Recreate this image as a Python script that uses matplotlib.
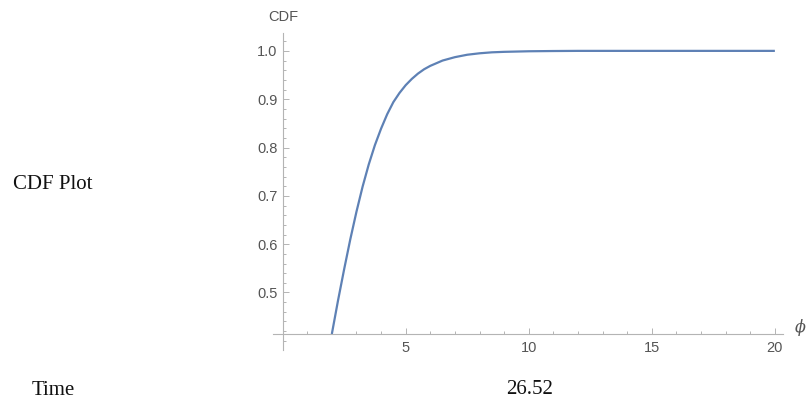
import numpy as np
import matplotlib
matplotlib.use('Agg')
import matplotlib.pyplot as plt
from matplotlib.ticker import MultipleLocator

# values
phi = [2.0, 2.25, 2.5, 2.75, 3.0, 3.25, 3.5, 3.75, 4.0, 4.25, 4.5, 4.75,
       5.0, 5.25, 5.5, 5.75, 6.0, 6.5, 7.0, 7.5, 8.0, 8.5, 9.0, 10.0, 11.0,
       12.0, 15.0, 20.0]
cdf = [0.414, 0.483, 0.548, 0.610, 0.667, 0.719, 0.765, 0.805, 0.839, 0.869,
       0.894, 0.913, 0.929, 0.942, 0.953, 0.962, 0.969, 0.980, 0.987, 0.992,
       0.995, 0.997, 0.998, 0.9992, 0.9997, 1.0, 1.0, 1.0]

x_ticks = [5, 10, 15, 20]
y_ticks = [0.5, 0.6, 0.7, 0.8, 0.9, 1.0]
axis_origin = (0, 0.414)

plot_title = 'CDF Plot'
time_label = 'Time'
time_value = '26.52'

gray = '#b4b4b4'
label_gray = '#555555'
line_blue = '#5e81b5'

fig = plt.figure(figsize=(8.12, 4.01), dpi=100)
ax = fig.add_axes([273 / 812, 1 - 350 / 401, 510 / 812, 317 / 401])

ax.plot(phi, cdf, color=line_blue, lw=1.6, solid_capstyle='butt',
        solid_joinstyle='round')

ax.set_xlim(-0.39, 20.33)
ax.set_ylim(0.381, 1.037)

ax.spines['left'].set_position(('data', axis_origin[0]))
ax.spines['bottom'].set_position(('data', axis_origin[1]))
for s in ['top', 'right']:
    ax.spines[s].set_visible(False)
for s in ['left', 'bottom']:
    ax.spines[s].set_color(gray)
    ax.spines[s].set_linewidth(0.8)

ax.set_xticks(x_ticks)
ax.set_yticks(y_ticks)
ax.set_yticklabels(['%.1f' % v for v in y_ticks])
ax.xaxis.set_minor_locator(MultipleLocator(1))
ax.yaxis.set_minor_locator(MultipleLocator(0.02))

ax.tick_params(which='both', direction='in', color=gray, width=0.7,
               labelcolor=label_gray, labelsize=10.5)
ax.tick_params(which='major', length=4)
ax.tick_params(which='minor', length=2.2)
ax.tick_params(axis='x', pad=5)
ax.tick_params(axis='y', pad=3.5)
for lab in ax.get_xticklabels() + ax.get_yticklabels():
    lab.set_family('Liberation Sans')

fig.text(283 / 812, 1 - 17 / 401, 'CDF', ha='center', va='center',
         fontsize=10.5, color=label_gray, family='Liberation Sans')
fig.text(800 / 812, 1 - 328 / 401, 'ϕ', ha='center', va='center',
         fontsize=11.5, color=label_gray, style='italic', family='DejaVu Serif')

fig.text(13 / 812, 1 - 189 / 401, plot_title, ha='left', va='baseline',
         fontsize=15, color='#111111', family='Liberation Serif')
fig.text(32 / 812, 1 - 395 / 401, time_label, ha='left', va='baseline',
         fontsize=15, color='#111111', family='Liberation Serif')
fig.text(506 / 812, 1 - 394 / 401, time_value, ha='left', va='baseline',
         fontsize=15, color='#111111', family='Liberation Serif')

fig.savefig('out.png', dpi=100)
